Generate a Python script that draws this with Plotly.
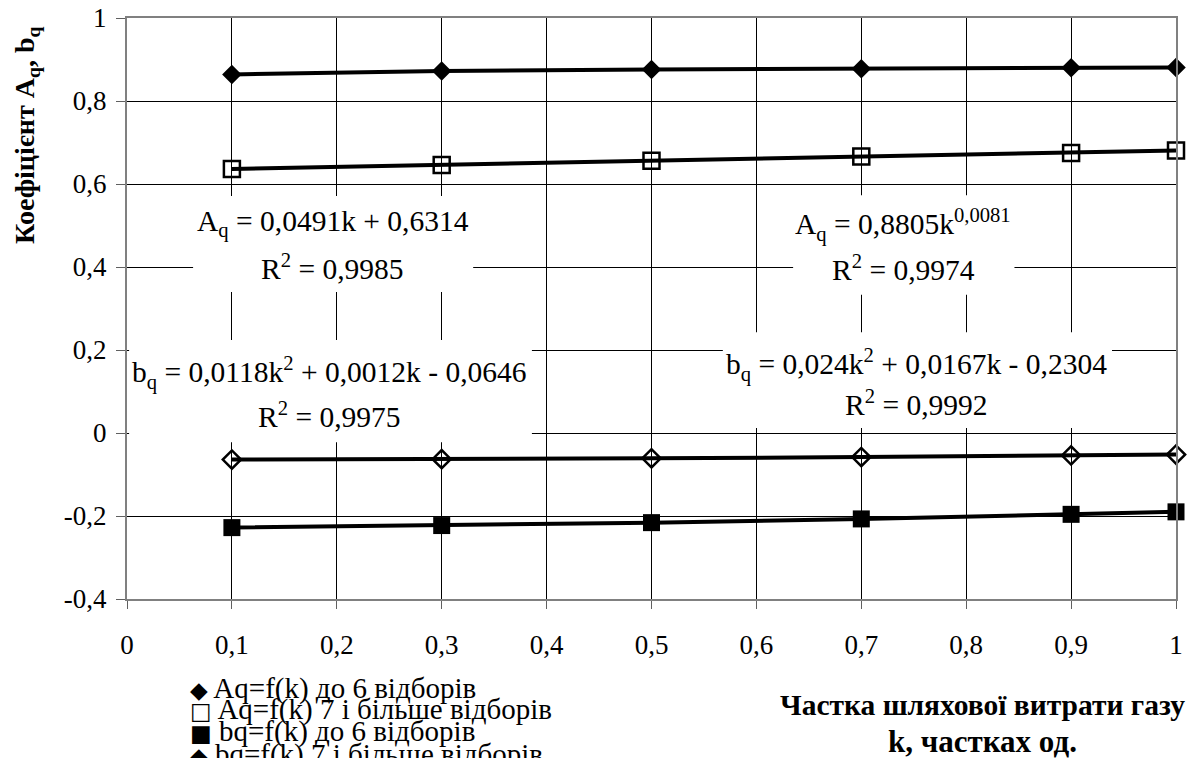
import plotly.graph_objects as go

# ---- data ----
k_values = [0.1, 0.3, 0.5, 0.7, 0.9, 1.0]
aq_upto6 = [0.864, 0.872, 0.876, 0.878, 0.880, 0.881]
aq_7plus = [0.636, 0.646, 0.656, 0.666, 0.675, 0.681]
bq_upto6 = [-0.228, -0.223, -0.216, -0.207, -0.196, -0.190]
bq_7plus = [-0.064, -0.063, -0.061, -0.058, -0.054, -0.052]

series_names = [
    "Aq=f(k) до 6 відборів",
    "Aq=f(k) 7 і більше відборів",
    "bq=f(k) до 6 відборів",
    "bq=f(k) 7 і більше відборів",
]
legend_glyphs = ["◆", "□", "■", "◆"]

x_ticks = [0, 0.1, 0.2, 0.3, 0.4, 0.5, 0.6, 0.7, 0.8, 0.9, 1]
x_tick_labels = ["0", "0,1", "0,2", "0,3", "0,4", "0,5", "0,6", "0,7", "0,8", "0,9", "1"]
y_ticks = [-0.4, -0.2, 0, 0.2, 0.4, 0.6, 0.8, 1]
y_tick_labels = ["-0,4", "-0,2", "0", "0,2", "0,4", "0,6", "0,8", "1"]

eq_lines = [
    # (text, x, y)
    ("A<sub>q</sub> = 0,0491k + 0,6314", 0.196, 0.506),
    ("R<sup>2</sup> = 0,9985", 0.196, 0.400),
    ("A<sub>q</sub> = 0,8805k<sup>0,0081</sup>", 0.740, 0.501),
    ("R<sup>2</sup> = 0,9974", 0.740, 0.398),
    ("b<sub>q</sub> = 0,0118k<sup>2</sup> + 0,0012k - 0,0646", 0.1935, 0.1446),
    ("R<sup>2</sup> = 0,9975", 0.1935, 0.0434),
    ("b<sub>q</sub> = 0,024k<sup>2</sup> + 0,0167k - 0,2304", 0.753, 0.164),
    ("R<sup>2</sup> = 0,9992", 0.753, 0.0723),
]
eq_boxes = [
    (0.063, 0.330, 0.340, 0.571),
    (0.635, 0.846, 0.333, 0.573),
    (0.002, 0.386, -0.022, 0.224),
    (0.568, 0.939, 0.012, 0.243),
]

SERIF = "Liberation Serif"

fig = go.Figure()

styles = [
    dict(symbol="diamond", size=15, color="black", line=dict(width=0, color="black")),
    dict(symbol="square-open", size=16, color="black", line=dict(width=2.5, color="black")),
    dict(symbol="square", size=17, color="black", line=dict(width=0, color="black")),
    dict(symbol="diamond-open", size=14, color="black", line=dict(width=2.5, color="black")),
]
for name, ys, st in zip(series_names, [aq_upto6, aq_7plus, bq_upto6, bq_7plus], styles):
    fig.add_trace(go.Scatter(
        x=k_values, y=ys, name=name, mode="lines+markers",
        line=dict(color="black", width=4),
        marker=st, cliponaxis=False, showlegend=False,
    ))

for (x0, x1, y0, y1) in eq_boxes:
    fig.add_shape(type="rect", xref="x", yref="y", x0=x0, x1=x1, y0=y0, y1=y1,
                  fillcolor="white", line=dict(width=0), layer="between")

for text, x, y in eq_lines:
    fig.add_annotation(text=text, x=x, y=y, xref="x", yref="y", showarrow=False,
                       xanchor="center", yanchor="middle",
                       font=dict(family=SERIF, size=29.5, color="black"))

# axis titles
fig.add_annotation(text="<b>Коефіцієнт A<sub>q</sub>, b<sub>q</sub></b>",
                   x=-0.0953, y=0.797, xref="paper", yref="paper", showarrow=False,
                   textangle=-90, xanchor="center", yanchor="middle",
                   font=dict(family=SERIF, size=28, color="black"))
fig.add_annotation(text="<b>Частка шляхової витрати газу</b>",
                   x=0.816, y=-0.1824, xref="paper", yref="paper", showarrow=False,
                   xanchor="center", yanchor="middle",
                   font=dict(family=SERIF, size=29.5, color="black"))
fig.add_annotation(text="<b>k, частках од.</b>",
                   x=0.816, y=-0.246, xref="paper", yref="paper", showarrow=False,
                   xanchor="center", yanchor="middle",
                   font=dict(family=SERIF, size=31, color="black"))

# legend (drawn as text lines)
legend_y = [-0.1532, -0.1910, -0.2289, -0.2668]
for g, name, ly in zip(legend_glyphs, series_names, legend_y):
    fig.add_annotation(
        text=f"<span style='font-family:DejaVu Sans;font-size:23px'>{g}</span> {name}",
        x=0.058, y=ly, xref="paper", yref="paper", showarrow=False,
        xanchor="left", yanchor="middle",
        font=dict(family=SERIF, size=29, color="black"))

fig.update_layout(
    width=1187, height=750,
    margin=dict(l=119, r=19, t=10, b=159, autoexpand=False),
    paper_bgcolor="white", plot_bgcolor="white",
    separators=", ",
    showlegend=False,
    font=dict(family=SERIF, size=27, color="black"),
)
fig.update_xaxes(
    range=[0, 1], tickmode="array", tickvals=x_ticks, ticktext=x_tick_labels,
    showgrid=True, gridcolor="black", gridwidth=1,
    showline=True, linecolor="#808080", linewidth=2, mirror=True,
    ticks="outside", ticklen=8, tickcolor="#606060", tickwidth=1,
    zeroline=False, automargin=False, ticklabelstandoff=13,
    ticklabeloverflow="allow",
    tickfont=dict(family=SERIF, size=27, color="black"),
)
fig.update_yaxes(
    range=[-0.4, 1], tickmode="array", tickvals=y_ticks, ticktext=y_tick_labels,
    showgrid=True, gridcolor="black", gridwidth=1,
    showline=True, linecolor="#808080", linewidth=2, mirror=True,
    ticks="outside", ticklen=9, tickcolor="#606060", tickwidth=1,
    zeroline=False, automargin=False, ticklabelstandoff=4,
    ticklabeloverflow="allow",
    tickfont=dict(family=SERIF, size=27, color="black"),
)

fig.write_html("out.html")
